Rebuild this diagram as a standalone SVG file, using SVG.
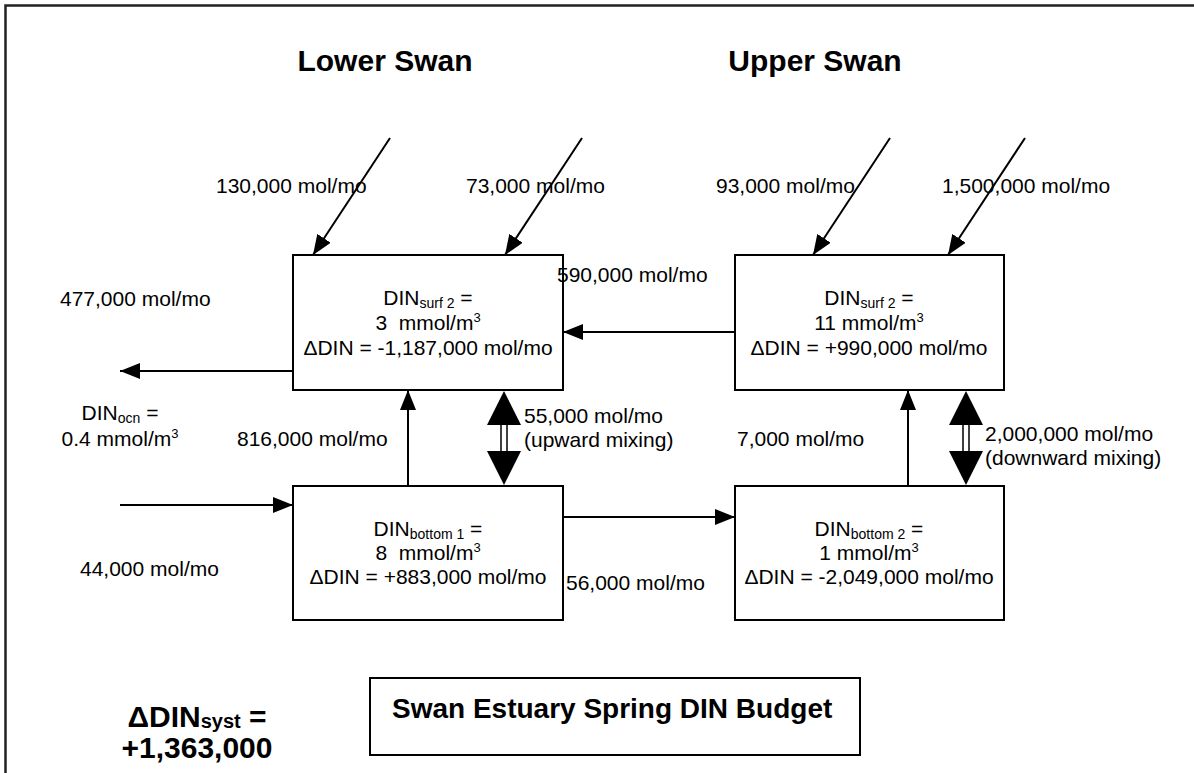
<svg xmlns="http://www.w3.org/2000/svg" width="1194" height="773" viewBox="0 0 1194 773">
  <style>
    text { font-family: "Liberation Sans", Arial, sans-serif; fill: #000; }
    .lbl { font-size: 21px; }
    .box { font-size: 21px; text-anchor: middle; }
    .sub { font-size: 14px; }
    .sup { font-size: 13px; }
    .hd { font-size: 30px; font-weight: bold; }
    .node { fill: #fff; stroke: #000; stroke-width: 2; }
    .flow { stroke: #000; stroke-width: 2; fill: none; }
  </style>
  <defs>
    <marker id="head" viewBox="0 0 20 16" refX="20" refY="8" markerWidth="20" markerHeight="16" markerUnits="userSpaceOnUse" orient="auto">
      <path d="M0,0 L20,8 L0,16 Z" fill="#000"/>
    </marker>
  </defs>

  <rect width="1194" height="773" fill="#fff"/>
  <!-- page frame -->
  <path d="M5.5,773 V5.5 H1194" fill="none" stroke="#222" stroke-width="2.5"/>

  <text class="hd" x="385" y="71" text-anchor="middle">Lower Swan</text>
  <text class="hd" x="815" y="71" text-anchor="middle">Upper Swan</text>

  <g id="connectors">
    <!-- river / catchment inputs -->
    <line class="flow" x1="390" y1="138" x2="313" y2="255" marker-end="url(#head)"/>
    <line class="flow" x1="582" y1="138" x2="505" y2="255" marker-end="url(#head)"/>
    <line class="flow" x1="890" y1="138" x2="813" y2="255" marker-end="url(#head)"/>
    <line class="flow" x1="1025" y1="138" x2="948" y2="255" marker-end="url(#head)"/>
    <!-- horizontal exchanges -->
    <line class="flow" x1="735" y1="332" x2="563" y2="332" marker-end="url(#head)"/>
    <line class="flow" x1="293" y1="371" x2="120" y2="371" marker-end="url(#head)"/>
    <line class="flow" x1="120" y1="505" x2="293" y2="505" marker-end="url(#head)"/>
    <line class="flow" x1="563" y1="517" x2="735" y2="517" marker-end="url(#head)"/>
    <!-- vertical advection -->
    <line class="flow" x1="408" y1="486" x2="408" y2="390" marker-end="url(#head)"/>
    <line class="flow" x1="908" y1="486" x2="908" y2="390" marker-end="url(#head)"/>
    <!-- vertical mixing (double-headed) -->
    <g id="mix-lower">
      <rect x="501" y="424" width="6" height="28" fill="#fff" stroke="#000" stroke-width="1.5"/>
      <path d="M504,391 L521,425 L487,425 Z" fill="#000"/>
      <path d="M504,485 L521,451 L487,451 Z" fill="#000"/>
    </g>
    <g id="mix-upper">
      <rect x="963" y="424" width="6" height="28" fill="#fff" stroke="#000" stroke-width="1.5"/>
      <path d="M966,391 L983,425 L949,425 Z" fill="#000"/>
      <path d="M966,485 L983,451 L949,451 Z" fill="#000"/>
    </g>
  </g>

  <g id="lower-surface">
    <rect class="node" x="293" y="255" width="270" height="135"/>
    <text class="box" x="428" y="305">DIN<tspan class="sub" dy="3">surf 2</tspan><tspan dy="-3"> =</tspan></text>
    <text class="box" x="428" y="330">3&#160; mmol/m<tspan class="sup" dy="-8">3</tspan></text>
    <text class="box" x="428" y="355">ΔDIN = -1,187,000 mol/mo</text>
  </g>

  <g id="upper-surface">
    <rect class="node" x="735" y="255" width="269" height="135"/>
    <text class="box" x="869" y="305">DIN<tspan class="sub" dy="3">surf 2</tspan><tspan dy="-3"> =</tspan></text>
    <text class="box" x="869" y="330">11 mmol/m<tspan class="sup" dy="-8">3</tspan></text>
    <text class="box" x="869" y="355">ΔDIN = +990,000 mol/mo</text>
  </g>

  <g id="lower-bottom">
    <rect class="node" x="293" y="486" width="270" height="134"/>
    <text class="box" x="428" y="536">DIN<tspan class="sub" dy="3">bottom 1</tspan><tspan dy="-3"> =</tspan></text>
    <text class="box" x="428" y="560">8&#160; mmol/m<tspan class="sup" dy="-8">3</tspan></text>
    <text class="box" x="428" y="584">ΔDIN = +883,000 mol/mo</text>
  </g>

  <g id="upper-bottom">
    <rect class="node" x="735" y="486" width="269" height="134"/>
    <text class="box" x="869" y="536">DIN<tspan class="sub" dy="3">bottom 2</tspan><tspan dy="-3"> =</tspan></text>
    <text class="box" x="869" y="560">1 mmol/m<tspan class="sup" dy="-8">3</tspan></text>
    <text class="box" x="869" y="584">ΔDIN = -2,049,000 mol/mo</text>
  </g>

  <!-- flux labels -->
  <text class="lbl" x="216" y="193">130,000 mol/mo</text>
  <text class="lbl" x="466" y="193">73,000 mol/mo</text>
  <text class="lbl" x="716" y="193">93,000 mol/mo</text>
  <text class="lbl" x="942" y="193">1,500,000 mol/mo</text>
  <text class="lbl" x="60" y="306">477,000 mol/mo</text>
  <text class="lbl" x="557" y="282">590,000 mol/mo</text>
  <text class="lbl" x="120" y="420" text-anchor="middle">DIN<tspan class="sub" dy="3">ocn</tspan><tspan dy="-3"> =</tspan></text>
  <text class="lbl" x="120" y="446" text-anchor="middle">0.4 mmol/m<tspan class="sup" dy="-8">3</tspan></text>
  <text class="lbl" x="237" y="446">816,000 mol/mo</text>
  <text class="lbl" x="524" y="423">55,000 mol/mo</text>
  <text class="lbl" x="524" y="447">(upward mixing)</text>
  <text class="lbl" x="737" y="446">7,000 mol/mo</text>
  <text class="lbl" x="985" y="441">2,000,000 mol/mo</text>
  <text class="lbl" x="985" y="465">(downward mixing)</text>
  <text class="lbl" x="80" y="576">44,000 mol/mo</text>
  <text class="lbl" x="566" y="590">56,000 mol/mo</text>

  <!-- system total and title -->
  <text class="hd" x="197" y="727" text-anchor="middle" font-size="29">ΔDIN<tspan font-size="20" dy="1">syst</tspan><tspan dy="-1"> =</tspan></text>
  <text class="hd" x="197" y="758" text-anchor="middle" font-size="30">+1,363,000</text>
  <g id="title">
    <rect x="370" y="678" width="490" height="77" fill="#fff" stroke="#000" stroke-width="2"/>
    <text x="392" y="718" font-size="28" font-weight="bold">Swan Estuary Spring DIN Budget</text>
  </g>
</svg>
